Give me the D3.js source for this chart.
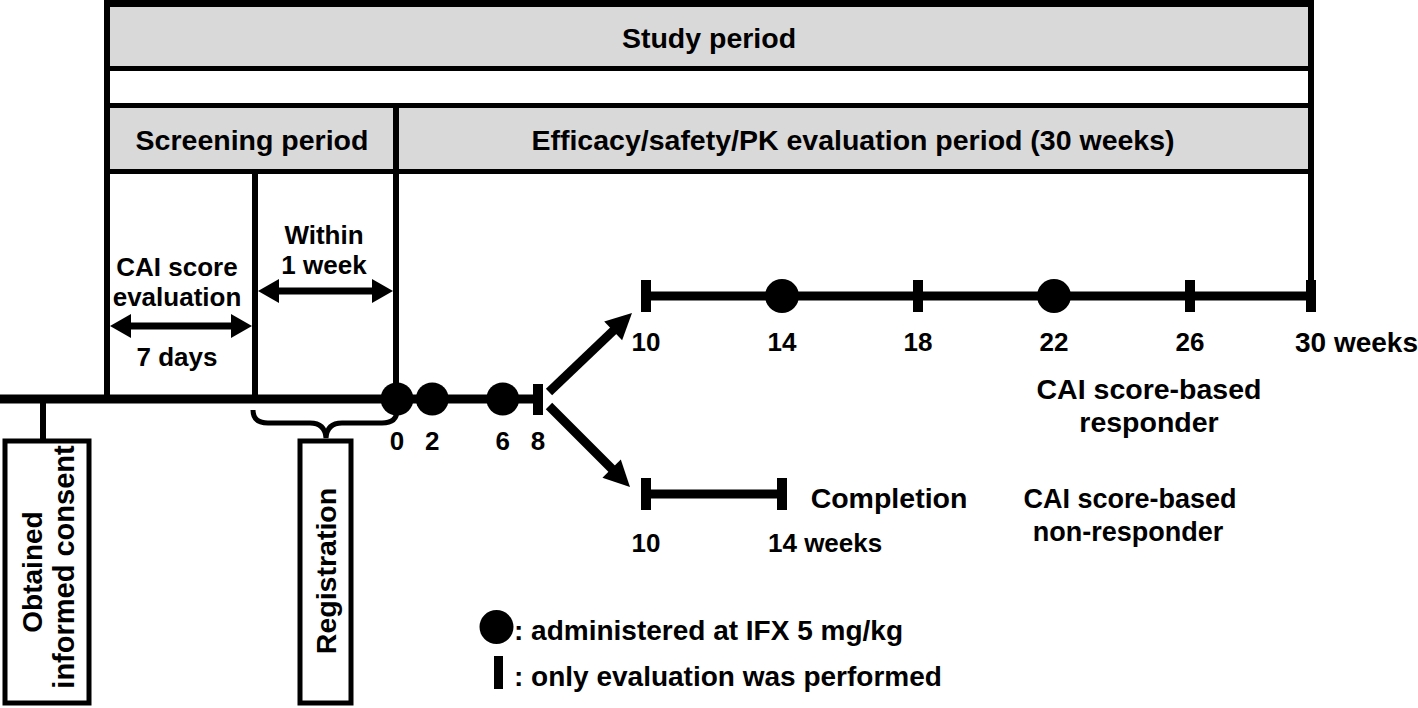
<!DOCTYPE html>
<html><head><meta charset="utf-8">
<script src="https://cdn.jsdelivr.net/npm/d3@7"></script>
<style>html,body{margin:0;padding:0;background:#fff;}svg{display:block;}</style>
</head><body>
<script>
// ---- data ----
const earlyWeeks = [0, 2, 6, 8];
const earlyDoses = [0, 2, 6];
const earlyEvals = [8];
const responderWeeks = [10, 14, 18, 22, 26, 30];
const responderDoses = [14, 22];
const responderEvals = [10, 18, 26, 30];
const responderLabels = ["10", "14", "18", "22", "26", "30 weeks"];
const nonResponderWeeks = [10, 14];
const nonResponderEvals = [10, 14];
const nonResponderLabels = ["10", "14 weeks"];
const periodLabels = ["Study period", "Screening period", "Efficacy/safety/PK evaluation period (30 weeks)"];
const legendLabels = [": administered at IFX 5 mg/kg", ": only evaluation was performed"];

const W = 1418, H = 708;
const svg = d3.select("body").append("svg").attr("width", W).attr("height", H);
const FONT = "'Liberation Sans', Arial, sans-serif";
const FS = 27;

const xEarly = d3.scaleLinear().domain([0, 8]).range([397, 538]);
const xLate = d3.scaleLinear().domain([10, 26, 30]).range([646, 1190, 1311]);
const yMain = 399, yUp = 296, yLow = 494;

function text(x, y, s, anchor = "middle", fs = FS) {
  return svg.append("text").attr("x", x).attr("y", y).attr("dy", "0.36em")
    .attr("text-anchor", anchor).attr("font-family", FONT).attr("font-weight", "bold")
    .attr("font-size", fs).attr("fill", "#000").text(s);
}
function vtext(x, y, s, fs = FS) {
  return svg.append("text").attr("transform", `translate(${x},${y}) rotate(-90)`).attr("dy", "0.36em")
    .attr("text-anchor", "middle").attr("font-family", FONT).attr("font-weight", "bold")
    .attr("font-size", fs).attr("fill", "#000").text(s);
}
function line(x1, y1, x2, y2, w) {
  svg.append("line").attr("x1", x1).attr("y1", y1).attr("x2", x2).attr("y2", y2)
    .attr("stroke", "#000").attr("stroke-width", w);
}

// ---- header boxes ----
svg.append("rect").attr("x", 107).attr("y", 7).attr("width", 1204).attr("height", 59).attr("fill", "#d9d9d9");
svg.append("rect").attr("x", 107).attr("y", 108).attr("width", 1204).attr("height", 61).attr("fill", "#d9d9d9");
line(104, 3.5, 1314, 3.5, 7);
line(107, 68.5, 1311, 68.5, 5);
line(107, 105.5, 1311, 105.5, 5);
line(107, 171.5, 1311, 171.5, 5);
line(107, 0, 107, yMain + 4, 6);
line(1311, 0, 1311, yUp, 6);
line(396, 105, 396, yMain, 6);
line(255, 171, 255, yMain + 4, 6);

text(709, 38, periodLabels[0], "middle", 28.5);
text(252, 140, periodLabels[1], "middle", 28.5);
text(853, 140, periodLabels[2], "middle", 28.5);

// ---- double arrows ----
function dblArrow(x1, x2, y) {
  const hl = 21, hw = 12;
  line(x1 + hl - 2, y, x2 - hl + 2, y, 7);
  svg.append("path").attr("d", `M${x1},${y} L${x1 + hl},${y - hw} L${x1 + hl},${y + hw} Z`).attr("fill", "#000");
  svg.append("path").attr("d", `M${x2},${y} L${x2 - hl},${y - hw} L${x2 - hl},${y + hw} Z`).attr("fill", "#000");
}
dblArrow(110, 252, 326);
dblArrow(258, 393, 291);
text(177, 267, "CAI score", "middle", 26);
text(177, 297, "evaluation", "middle", 26);
text(177, 357, "7 days", "middle", 26);
text(324, 235, "Within", "middle", 26);
text(324, 265, "1 week", "middle", 26);

// ---- main timeline ----
line(0, yMain, xEarly(8), yMain, 9);
svg.selectAll("circle.early").data(earlyDoses).enter().append("circle")
  .attr("cx", d => xEarly(d)).attr("cy", yMain).attr("r", 16.5).attr("fill", "#000");
svg.selectAll("rect.earlyEval").data(earlyEvals).enter().append("rect")
  .attr("x", d => xEarly(d) - 5).attr("y", yMain - 15).attr("width", 10).attr("height", 31).attr("fill", "#000");
earlyWeeks.forEach(d => text(xEarly(d), 441, String(d), "middle", 26));

// ---- consent / registration ----
line(43, yMain, 43, 440, 6);
svg.append("rect").attr("x", 5).attr("y", 441).attr("width", 84).attr("height", 262)
  .attr("fill", "#fff").attr("stroke", "#000").attr("stroke-width", 5);
svg.append("rect").attr("x", 300).attr("y", 441).attr("width", 51).attr("height", 262)
  .attr("fill", "#fff").attr("stroke", "#000").attr("stroke-width", 5);
vtext(32, 572, "Obtained", 28);
vtext(64, 567, "informed consent", 29);
vtext(326, 571, "Registration", 28.5);

// brace
svg.append("path").attr("d",
  "M253,410 Q253,423 268,423 L310,423 Q325,423 326,438 Q327,423 342,423 L382,423 Q397,423 397,410")
  .attr("fill", "none").attr("stroke", "#000").attr("stroke-width", 5);

// ---- branch arrows ----
function arrow(x1, y1, x2, y2) {
  const ang = Math.atan2(y2 - y1, x2 - x1), hl = 26, hw = 13;
  const bx = x2 - hl * Math.cos(ang), by = y2 - hl * Math.sin(ang);
  line(x1, y1, bx + 3 * Math.cos(ang), by + 3 * Math.sin(ang), 9);
  const px = -Math.sin(ang) * hw, py = Math.cos(ang) * hw;
  svg.append("path").attr("d", `M${x2},${y2} L${bx + px},${by + py} L${bx - px},${by - py} Z`).attr("fill", "#000");
}
arrow(549, 392, 632, 313);
arrow(549, 406, 630, 487);

// ---- responder line ----
line(xLate(10), yUp, xLate(30), yUp, 9);
svg.selectAll("circle.resp").data(responderDoses).enter().append("circle")
  .attr("cx", d => xLate(d)).attr("cy", yUp).attr("r", 17).attr("fill", "#000");
svg.selectAll("rect.respEval").data(responderEvals).enter().append("rect")
  .attr("x", d => xLate(d) - 5).attr("y", yUp - 16).attr("width", 10).attr("height", 32).attr("fill", "#000");
responderWeeks.forEach((d, i) => {
  if (i === responderWeeks.length - 1) text(xLate(d) - 16, 342, responderLabels[i], "start", 28);
  else text(xLate(d), 342, responderLabels[i], "middle", 26);
});
text(1149, 389, "CAI score-based", "middle", 28.5);
text(1149, 422, "responder", "middle", 28.5);

// ---- non-responder line ----
line(xLate(10), yLow, xLate(14), yLow, 9);
svg.selectAll("rect.nrEval").data(nonResponderEvals).enter().append("rect")
  .attr("x", d => xLate(d) - 5).attr("y", yLow - 16).attr("width", 10).attr("height", 32).attr("fill", "#000");
nonResponderWeeks.forEach((d, i) => {
  if (i === nonResponderWeeks.length - 1) text(xLate(d) - 14, 543, nonResponderLabels[i], "start", 26);
  else text(xLate(d), 543, nonResponderLabels[i], "middle", 26);
});
text(889, 498, "Completion", "middle", 28.5);
text(1130, 498, "CAI score-based", "middle", 27);
text(1128, 531, "non-responder", "middle", 27);

// ---- legend ----
svg.append("circle").attr("cx", 496.5).attr("cy", 627).attr("r", 17).attr("fill", "#000");
svg.append("rect").attr("x", 494).attr("y", 656).attr("width", 9).attr("height", 33).attr("fill", "#000");
text(514, 630, legendLabels[0], "start", 28);
text(514, 676, legendLabels[1], "start", 28);
</script>
</body></html>
